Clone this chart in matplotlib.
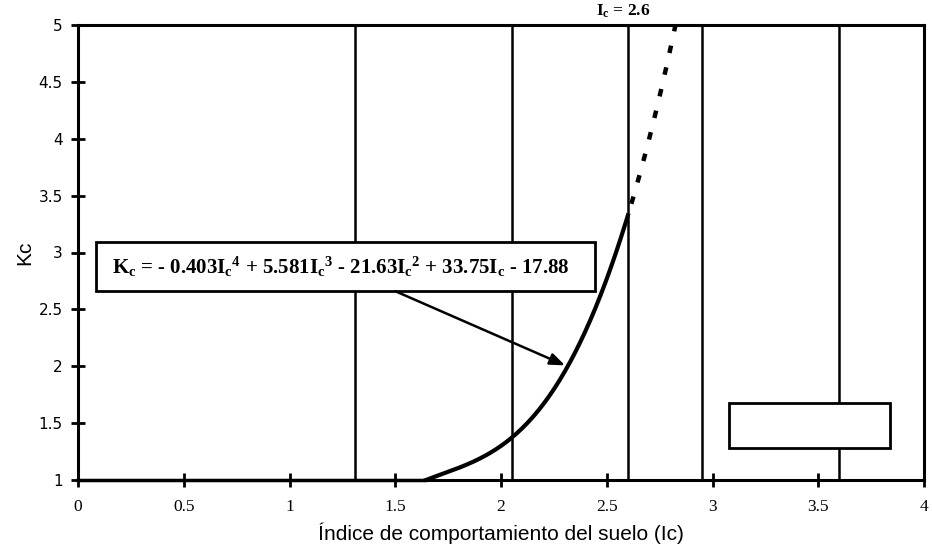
import numpy as np
import matplotlib
matplotlib.use("Agg")
import matplotlib.pyplot as plt
from matplotlib.patches import Rectangle

plt.rcParams["mathtext.fontset"] = "custom"
plt.rcParams["mathtext.rm"] = "Liberation Serif:bold"
plt.rcParams["mathtext.bf"] = "Liberation Serif:bold"
plt.rcParams["mathtext.it"] = "Liberation Serif:bold"

# Kc polynomial in Ic (highest power first)
kc_coeffs = [-0.403, 5.581, -21.63, 33.75, -17.88]
ic_start = 1.64      # below this Kc = 1
ic_limit = 2.6       # solid up to Ic = 2.6, dotted beyond
ic_end = 2.826       # dotted branch until Kc reaches 5
zone_bounds = [1.31, 2.05, 2.60, 2.95, 3.60]

x_ticks = [0, 0.5, 1, 1.5, 2, 2.5, 3, 3.5, 4]
x_tick_labels = ["0", "0.5", "1", "1.5", "2", "2.5", "3", "3.5", "4"]
y_ticks = [1, 1.5, 2, 2.5, 3, 3.5, 4, 4.5, 5]
y_tick_labels = ["1", "1.5", "2", "2.5", "3", "3.5", "4", "4.5", "5"]

equation = (r"$K_c\text{ = - 0.403}I_c{}^4\text{ + 5.581}I_c{}^3"
            r"\text{ - 21.63}I_c{}^2\text{ + 33.75}I_c\text{ - 17.88}$")
limit_label = r"$I_c\text{ = 2.6}$"

fig = plt.figure(figsize=(9.32, 5.48), dpi=100)
ax = fig.add_axes([78 / 932, 1 - 480 / 548, (924 - 78) / 932, (480 - 25) / 548])
ax.set_xlim(0, 4)
ax.set_ylim(1, 5)

# zone boundaries
for xb in zone_bounds:
    ax.axvline(xb, color="black", lw=1.8, zorder=2)

# Kc curve
ax.plot([0, ic_start], [1, 1], color="black", lw=2.5, zorder=3, clip_on=False)
ic_solid = np.linspace(ic_start, ic_limit, 200)
ax.plot(ic_solid, np.polyval(kc_coeffs, ic_solid), color="black", lw=3, zorder=3)
# dotted branch drawn from the top down so a dash sits at Kc = 5
ic_dot = np.linspace(ic_end, ic_limit, 100)
ax.plot(ic_dot, np.polyval(kc_coeffs, ic_dot), color="black", lw=3.2,
        linestyle=(0, (1.7, 3.3)), zorder=3)

# equation box and arrow
ax.add_patch(Rectangle((0.085, 2.66), 2.36, 0.43, facecolor="white",
                       edgecolor="black", lw=2, zorder=4))
ax.text(1.245, 2.87, equation, ha="center", va="center", fontsize=15, zorder=5)
arrow_tip_ic = 2.315
ax.annotate("", xy=(arrow_tip_ic, np.polyval(kc_coeffs, arrow_tip_ic)),
            xytext=(1.5, 2.66),
            arrowprops=dict(arrowstyle="-|>,head_length=0.9,head_width=0.35",
                            color="black", lw=1.8, shrinkA=0, shrinkB=2),
            zorder=5)

# empty legend box
ax.add_patch(Rectangle((3.08, 1.28), 0.76, 0.40, facecolor="white",
                       edgecolor="black", lw=2, zorder=4))

ax.text(ic_limit - 0.02, 5.04, limit_label, ha="center", va="bottom",
        fontsize=12.5, clip_on=False)

for s in ax.spines.values():
    s.set_linewidth(2.2)

ax.set_xticks(x_ticks)
ax.set_xticklabels(x_tick_labels, family="Liberation Serif", fontsize=12.5)
ax.set_yticks(y_ticks)
ax.set_yticklabels(y_tick_labels, family="DejaVu Sans", fontsize=11)
ax.tick_params(direction="inout", length=10, width=2)
ax.tick_params(axis="x", pad=9)
ax.tick_params(axis="y", pad=6)

ax.set_xlabel("Índice de comportamiento del suelo (Ic)", family="Liberation Sans",
              fontsize=15, labelpad=5)
ax.set_ylabel("Kc", family="Liberation Sans", fontsize=15)
ax.yaxis.set_label_coords(-44 / 846, 0.5)

fig.savefig("out.png", dpi=100, facecolor="white")
